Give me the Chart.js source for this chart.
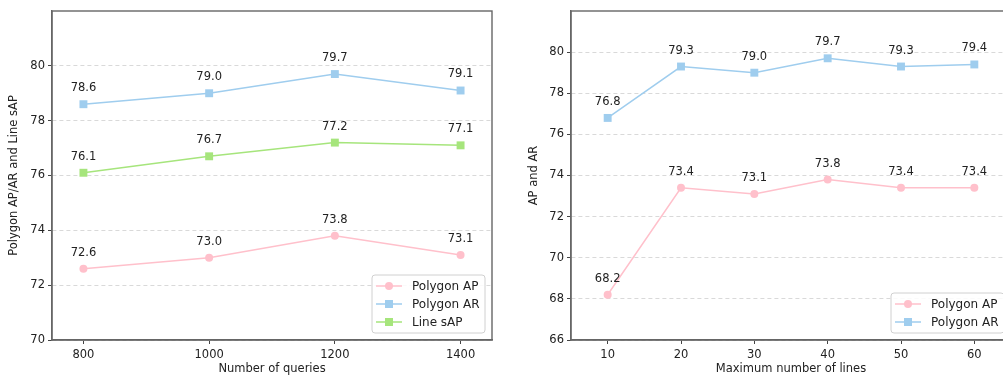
<!DOCTYPE html>
<html>
<head>
<meta charset="utf-8">
<script src="https://cdn.jsdelivr.net/npm/chart.js@4"></script>
<style>
  html, body { margin: 0; padding: 0; background: #fff; overflow: hidden; }
  body { width: 1003px; height: 377px; position: relative; }
  .box { position: absolute; top: 0; height: 377px; width: 500px; }
</style>
</head>
<body>
<div class="box" style="left:0"><canvas id="chart1"></canvas></div>
<div class="box" style="left:520px"><canvas id="chart2"></canvas></div>
<script>
// left plot: number of queries
const queries = [800, 1000, 1200, 1400];
const polyAPq = [72.6, 73.0, 73.8, 73.1];
const polyARq = [78.6, 79.0, 79.7, 79.1];
const lineSAPq = [76.1, 76.7, 77.2, 77.1];
const yTicks1 = [70, 72, 74, 76, 78, 80];

// right plot: max number of lines
const maxLines = [10, 20, 30, 40, 50, 60];
const polyAPl = [68.2, 73.4, 73.1, 73.8, 73.4, 73.4];
const polyARl = [76.8, 79.3, 79.0, 79.7, 79.3, 79.4];
const yTicks2 = [66, 68, 70, 72, 74, 76, 78, 80];

const PINK = '#ffc0cb';
const BLUE = '#9fcdee';
const GREEN = '#a6e57c';
const FONT = 'DejaVu Sans';

Chart.defaults.font.family = FONT;
Chart.defaults.color = '#222';
Chart.defaults.animation = false;

function pts(xs, ys) {
  return xs.map((x, i) => ({ x: x, y: ys[i] }));
}

function ds(label, xs, ys, color, shape) {
  return {
    label: label,
    data: pts(xs, ys),
    borderColor: color,
    backgroundColor: color,
    borderWidth: 1.5,
    pointStyle: shape,
    pointRadius: shape === 'rect' ? 5.6 : 4,
    pointBorderWidth: 0,
    tension: 0
  };
}

// value labels above points
const valueLabels = {
  id: 'valueLabels',
  afterDatasetsDraw(chart) {
    const ctx = chart.ctx;
    ctx.save();
    ctx.font = '11.5px ' + FONT;
    ctx.fillStyle = '#222';
    ctx.textAlign = 'center';
    ctx.textBaseline = 'middle';
    chart.data.datasets.forEach((d, i) => {
      chart.getDatasetMeta(i).data.forEach((p, j) => {
        ctx.fillText(d.data[j].y.toFixed(1), p.x, p.y - 16);
      });
    });
    ctx.restore();
  }
};

// frame + matplotlib-like legend box
const frameLegend = {
  id: 'frameLegend',
  afterDraw(chart) {
    const ctx = chart.ctx;
    const a = chart.chartArea;
    ctx.save();
    ctx.strokeStyle = '#666';
    ctx.lineWidth = 1.4;
    ctx.strokeRect(a.left, a.top, a.right - a.left, a.bottom - a.top);

    const sets = chart.data.datasets;
    const rowH = 18;
    const w = 113, h = sets.length * rowH + 4;
    const x0 = a.right - 7 - w, y0 = a.bottom - 7 - h;
    ctx.beginPath();
    ctx.roundRect(x0, y0, w, h, 3);
    ctx.fillStyle = 'rgba(255,255,255,0.85)';
    ctx.fill();
    ctx.strokeStyle = '#d0d0d0';
    ctx.lineWidth = 1;
    ctx.stroke();

    ctx.font = '12px ' + FONT;
    ctx.textBaseline = 'middle';
    ctx.textAlign = 'left';
    sets.forEach((d, i) => {
      const cy = y0 + 11 + i * rowH;
      ctx.strokeStyle = d.borderColor;
      ctx.lineWidth = 1.5;
      ctx.beginPath();
      ctx.moveTo(x0 + 4, cy);
      ctx.lineTo(x0 + 30, cy);
      ctx.stroke();
      ctx.fillStyle = d.borderColor;
      if (d.pointStyle === 'rect') {
        ctx.fillRect(x0 + 13, cy - 4, 8, 8);
      } else {
        ctx.beginPath();
        ctx.arc(x0 + 17, cy, 4, 0, Math.PI * 2);
        ctx.fill();
      }
      ctx.fillStyle = '#222';
      ctx.fillText(d.label, x0 + 40, cy + 1);
    });
    ctx.restore();
  }
};

function makeOptions(xMin, xMax, xTicks, yMin, yMax, yTicks, xTitle, yTitle, yWidth, padRight) {
  return {
    responsive: true,
    maintainAspectRatio: false,
    layout: { padding: { top: 11, right: padRight, left: 0, bottom: 0 } },
    plugins: { legend: { display: false }, tooltip: { enabled: false } },
    scales: {
      x: {
        type: 'linear',
        min: xMin,
        max: xMax,
        afterBuildTicks: s => { s.ticks = xTicks.map(v => ({ value: v })); },
        afterFit: s => { s.height = 37; },
        ticks: { font: { size: 11.5 }, padding: 4, callback: v => String(v) },
        grid: { drawOnChartArea: false, tickLength: 4, tickColor: '#444' },
        border: { color: '#666', width: 1.4 },
        title: { display: true, text: xTitle, font: { size: 11.5 }, padding: { top: 0, bottom: 1 } }
      },
      y: {
        min: yMin,
        max: yMax,
        afterBuildTicks: s => { s.ticks = yTicks.map(v => ({ value: v })); },
        afterFit: s => { s.width = yWidth; },
        ticks: { font: { size: 11.5 }, padding: 3, callback: v => String(v) },
        grid: { color: '#d9d9d9', tickLength: 4, tickColor: '#444', lineWidth: 1 },
        border: { color: '#666', width: 1.4, dash: [4, 3] },
        title: { display: true, text: yTitle, font: { size: 11.5 }, padding: { top: 7, bottom: 0 } }
      }
    }
  };
}

new Chart(document.getElementById('chart1'), {
  type: 'line',
  data: {
    datasets: [
      ds('Polygon AP', queries, polyAPq, PINK, 'circle'),
      ds('Polygon AR', queries, polyARq, BLUE, 'rect'),
      ds('Line sAP', queries, lineSAPq, GREEN, 'rect')
    ]
  },
  options: makeOptions(750, 1450, queries, 70, 82, yTicks1,
    'Number of queries', 'Polygon AP/AR and Line sAP', 52, 8),
  plugins: [valueLabels, frameLegend]
});

new Chart(document.getElementById('chart2'), {
  type: 'line',
  data: {
    datasets: [
      ds('Polygon AP', maxLines, polyAPl, PINK, 'circle'),
      ds('Polygon AR', maxLines, polyARl, BLUE, 'rect')
    ]
  },
  options: makeOptions(5, 65, maxLines, 66, 82, yTicks2,
    'Maximum number of lines', 'AP and AR', 51, 9),
  plugins: [valueLabels, frameLegend]
});
</script>
</body>
</html>
